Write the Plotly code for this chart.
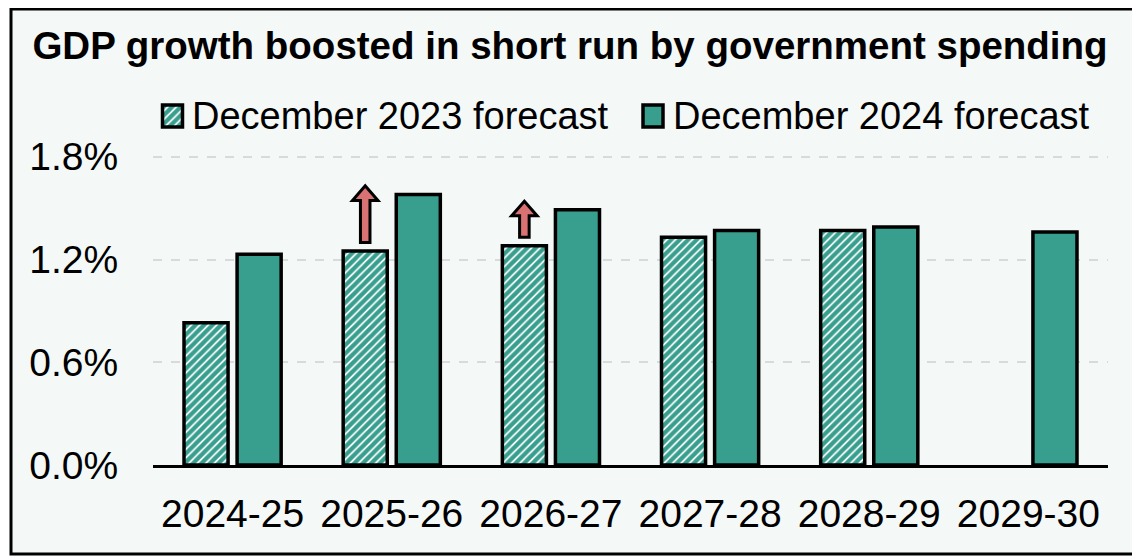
import plotly.graph_objects as go

categories = ["2024-25", "2025-26", "2026-27", "2027-28", "2028-29", "2029-30"]
dec2023 = [0.83, 1.25, 1.28, 1.33, 1.37, None]
dec2024 = [1.23, 1.58, 1.49, 1.37, 1.39, 1.36]
arrow_categories = ["2025-26", "2026-27"]
y_ticks = [0.0, 0.6, 1.2, 1.8]
series_names = ["December 2023 forecast", "December 2024 forecast"]
title_text = "GDP growth boosted in short run by government spending"

TEAL = "#389e8e"
RED = "#d97272"
FONT = "Liberation Sans"

OFF = 8  # page body margin
W, H = 1140 - OFF, 556 - OFF
L, R, T, B = 145, 32, 87, 91
pw, ph = W - L - R, H - T - B
PX_PER_PCT = 171.25


def px_x(p):
    return (p - OFF - L) / pw


def px_y(p):
    return (H - B - (p - OFF)) / ph


HATCH = dict(shape="/", fgcolor=TEAL, bgcolor="white", size=6, solidity=0.7, fgopacity=1)
OUTLINE = dict(color="black", width=3.5)

xs = list(range(len(categories)))
fig = go.Figure()
fig.add_trace(go.Bar(
    x=xs, y=dec2023, name=series_names[0], showlegend=False,
    marker=dict(color=TEAL, line=OUTLINE, pattern=HATCH),
))
fig.add_trace(go.Bar(
    x=xs, y=dec2024, name=series_names[1], showlegend=False,
    marker=dict(color=TEAL, line=OUTLINE),
))

# legend swatches drawn as bars on a hidden helper axis (screen-pixel units)
fig.add_trace(go.Bar(
    x=[172.5], y=[1], width=[20], offset=-10, xaxis="x2", yaxis="y2", showlegend=False,
    hoverinfo="skip",
    marker=dict(color=TEAL, line=OUTLINE, pattern=HATCH),
))
fig.add_trace(go.Bar(
    x=[653], y=[1], width=[20], offset=-10, xaxis="x2", yaxis="y2", showlegend=False,
    hoverinfo="skip",
    marker=dict(color=TEAL, line=OUTLINE),
))

shapes = []
# frame
shapes.append(dict(type="rect", xref="paper", yref="paper",
                   x0=px_x(11), x1=px_x(1150), y0=px_y(554), y1=px_y(9),
                   line=dict(color="black", width=3), fillcolor="#f4f8f7", layer="below"))

# revision arrows
slot = (1 - 0.333) / 2
for cat in arrow_categories:
    i = categories.index(cat)
    xc = i - slot / 2
    yb = dec2023[i] + 0.05
    yt = yb + (dec2024[i] - dec2023[i])
    hl = 0.085
    sw = 0.03
    hw = 0.08
    path = (f"M{xc - sw},{yb} L{xc + sw},{yb} L{xc + sw},{yt - hl} L{xc + hw},{yt - hl} "
            f"L{xc},{yt} L{xc - hw},{yt - hl} L{xc - sw},{yt - hl} Z")
    shapes.append(dict(type="path", xref="x", yref="y", path=path,
                       fillcolor=RED, line=dict(color="black", width=3), layer="above"))

annotations = [
    dict(text=series_names[0], xref="paper", yref="paper", x=px_x(190), y=px_y(116),
         xanchor="left", yanchor="middle", showarrow=False,
         font=dict(family=FONT, size=38, color="black")),
    dict(text=series_names[1], xref="paper", yref="paper", x=px_x(671), y=px_y(116),
         xanchor="left", yanchor="middle", showarrow=False,
         font=dict(family=FONT, size=38, color="black")),
]

fig.update_layout(
    width=W, height=H,
    margin=dict(l=L, r=R, t=T, b=B, pad=0),
    paper_bgcolor="white",
    plot_bgcolor="rgba(0,0,0,0)",
    barmode="group", bargap=0.333, bargroupgap=0.17,
    showlegend=False,
    title=dict(text=f"<b>{title_text}</b>", x=(570 - OFF) / W, xanchor="center",
               yref="container", y=1 - (46 - OFF) / H, yanchor="middle",
               font=dict(family=FONT, size=38.5, color="black")),
    font=dict(family=FONT, size=38, color="black"),
    xaxis=dict(tickvals=xs, ticktext=categories, range=[-0.5, len(categories) - 0.5],
               showgrid=False, zeroline=False, showline=True, linecolor="black", linewidth=2.5,
               ticks="outside", ticklen=12, tickcolor="rgba(0,0,0,0)",
               tickfont=dict(family=FONT, size=39, color="black"),
               domain=[0, 1], anchor="y", fixedrange=True),
    yaxis=dict(range=[0, (465 - 130) / PX_PER_PCT], domain=[0, px_y(130)],
               tickvals=y_ticks, ticktext=[f"{v:.1f}%" for v in y_ticks],
               showgrid=True, gridcolor="#dadada", gridwidth=2, griddash="dash",
               zeroline=False, showline=False,
               ticks="outside", ticklen=26, tickcolor="rgba(0,0,0,0)",
               tickfont=dict(family=FONT, size=39, color="black"),
               anchor="x", fixedrange=True),
    xaxis2=dict(range=[L + OFF, W - R + OFF], domain=[0, 1], anchor="y2", visible=False,
                fixedrange=True),
    yaxis2=dict(range=[-0.2, 1.2], domain=[px_y(116 + 15.4), px_y(116 - 15.4)], anchor="x2",
                visible=False, fixedrange=True),
    shapes=shapes,
    annotations=annotations,
)

fig.write_html("out.html", config={"displayModeBar": False})
